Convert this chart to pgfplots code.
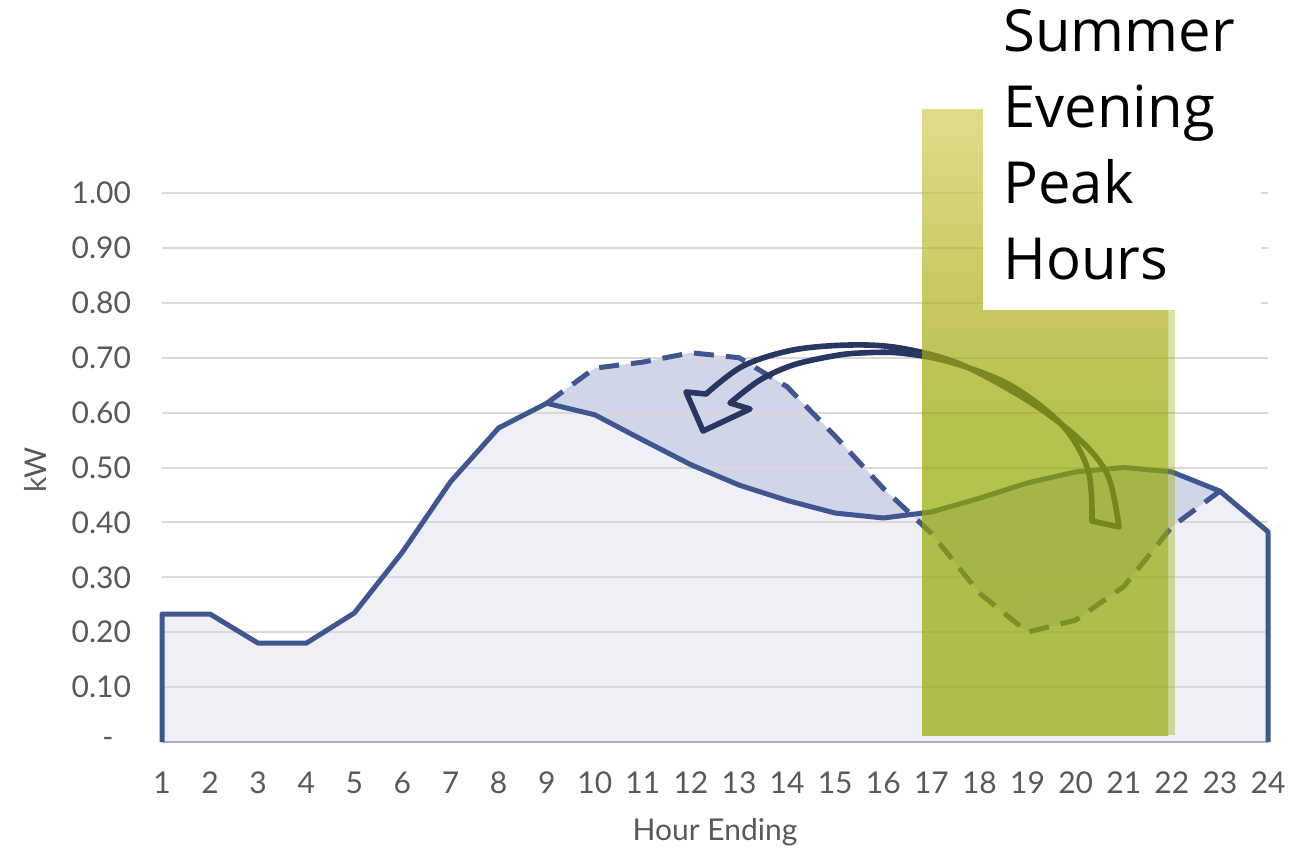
\documentclass[border=0pt]{standalone}
\usepackage{fontspec}
\setmainfont{Lato}
\newfontfamily\annfont{Open Sans}
\usepackage{pgfplots}
\pgfplotsset{compat=1.18}
\definecolor{lineblue}{RGB}{64,86,145}
\definecolor{lightfill}{RGB}{238,240,246}
\definecolor{midfill}{RGB}{208,214,232}
\definecolor{gridgray}{RGB}{217,217,217}
\definecolor{labelgray}{RGB}{89,89,89}
\definecolor{arrownavy}{RGB}{40,54,98}
\definecolor{hlgreen}{RGB}{149,168,0}
\definecolor{hltop}{RGB}{211,205,88}
\definecolor{hlmid}{RGB}{171,174,22}
\definecolor{basecol}{RGB}{165,176,208}
\pgfdeclareverticalshading{hlshade}{100bp}{color(0bp)=(hlgreen); color(25bp)=(hlgreen); color(50bp)=(hlgreen); color(58bp)=(hlmid); color(75bp)=(hltop); color(100bp)=(hltop)}
\begin{document}
\begin{tikzpicture}
\useasboundingbox (0,0) rectangle (652pt,423.5pt);
\begin{axis}[at={(81pt,52.5pt)}, anchor=south west, scale only axis,
  width=553pt, height=274.5pt,
  xmin=1, xmax=24, ymin=0, ymax=1, clip=false,
  axis line style={draw=none}, major tick length=0pt,
  xtick={1,2,3,4,5,6,7,8,9,10,11,12,13,14,15,16,17,18,19,20,21,22,23,24},
  xticklabels={1,2,3,4,5,6,7,8,9,10,11,12,13,14,15,16,17,18,19,20,21,22,23,24},
  ytick={0,0.1,0.2,0.3,0.4,0.5,0.6,0.7,0.8,0.9,1.0},
  yticklabels={-\hphantom{0},0.10,0.20,0.30,0.40,0.50,0.60,0.70,0.80,0.90,1.00},
  tick label style={font=\fontsize{15}{18}\selectfont, text=labelgray},
  yticklabel style={xshift=-12pt},
  xticklabel style={yshift=-11.5pt},
]
% area under the baseline load
\addplot[draw=none, fill=lightfill] coordinates {
 (1,0) (1,0.233) (2,0.233) (3,0.180) (4,0.180) (5,0.235) (6,0.346) (7,0.474)
 (8,0.572) (9,0.617) (10,0.596) (11,0.550) (12,0.505) (13,0.468) (14,0.440)
 (15,0.417) (16,0.408) (17,0.419) (18,0.444) (19,0.472) (20,0.492) (21,0.500)
 (22,0.492) (23,0.457) (24,0.383) (24,0)} -- cycle;
% region between shifted and baseline load
\addplot[draw=none, fill=midfill] coordinates {
 (9,0.617) (10,0.681) (11,0.692) (12,0.709) (13,0.700) (14,0.647) (15,0.557)
 (16,0.462) (17,0.380) (18,0.271) (19,0.200) (20,0.222) (21,0.283) (22,0.392)
 (23,0.457)
 (22,0.492) (21,0.500) (20,0.492) (19,0.472) (18,0.444) (17,0.419) (16,0.408)
 (15,0.417) (14,0.440) (13,0.468) (12,0.505) (11,0.550) (10,0.596) (9,0.617)} -- cycle;
\pgfplotsinvokeforeach{0.1,0.2,0.3,0.4,0.5,0.6,0.7,0.8,0.9,1.0}{
  \draw[gridgray, line width=1pt] (axis cs:1,#1) -- (axis cs:24,#1);
}
\draw[basecol, line width=1pt] (axis cs:1,0) -- (axis cs:24,0);
% baseline load
\addplot[lineblue, line width=2.5pt, line join=round] coordinates {
 (1,0) (1,0.233) (2,0.233) (3,0.180) (4,0.180) (5,0.235) (6,0.346) (7,0.474)
 (8,0.572) (9,0.617) (10,0.596) (11,0.550) (12,0.505) (13,0.468) (14,0.440)
 (15,0.417) (16,0.408) (17,0.419) (18,0.444) (19,0.472) (20,0.492) (21,0.500)
 (22,0.492) (23,0.457) (24,0.383) (24,0)};
% shifted load
\addplot[lineblue, line width=2.5pt, line join=round, dash pattern=on 10pt off 6pt] coordinates {
 (9,0.617) (10,0.681) (11,0.692) (12,0.709) (13,0.700) (14,0.647) (15,0.557)
 (16,0.462) (17,0.380) (18,0.271) (19,0.200) (20,0.222) (21,0.283) (22,0.392)
 (23,0.457)};
\end{axis}
\node[rotate=90, text=labelgray, font=\fontsize{15}{18}\selectfont] at (17.5pt,188.5pt) {kW};
\node[anchor=base, text=labelgray, font=\fontsize{15}{18}\selectfont] at (357.5pt,3.5pt) {Hour Ending};
\begin{scope}[x=0.5pt, y=-0.5pt, yshift=423.5pt]
\draw[arrownavy, line width=2.8pt, line join=round]
 plot[smooth, tension=0.55] coordinates {(1092,521) (1088,470) (1062,425) (1010,385) (950,362) (900,353) (860,353) (833,356) (793,365) (760,380) (730,403)}
 -- (750,409) -- (703,431) -- (686,392) --
 plot[smooth, tension=0.55] coordinates {(706,394) (743,366) (793,350) (850,345) (900,348) (960,364) (1030,402) (1080,440) (1108,476) (1119,527)}
 -- cycle;
\shade[shading=hlshade, opacity=0.7] (922,110) rectangle (1168,735);
\fill[hlgreen, opacity=0.35] (1168,310) rectangle (1175,735);
\fill[white] (983,0) rectangle (1261,310);
\begin{scope}[every node/.style={anchor=base west, inner sep=0pt, font=\annfont\fontsize{29}{35}\selectfont}]
\node at (1003,52) {Summer};
\node at (1003,128) {Evening};
\node at (1003,204) {Peak};
\node at (1003,280) {Hours};
\end{scope}
\end{scope}
\end{tikzpicture}
\end{document}
